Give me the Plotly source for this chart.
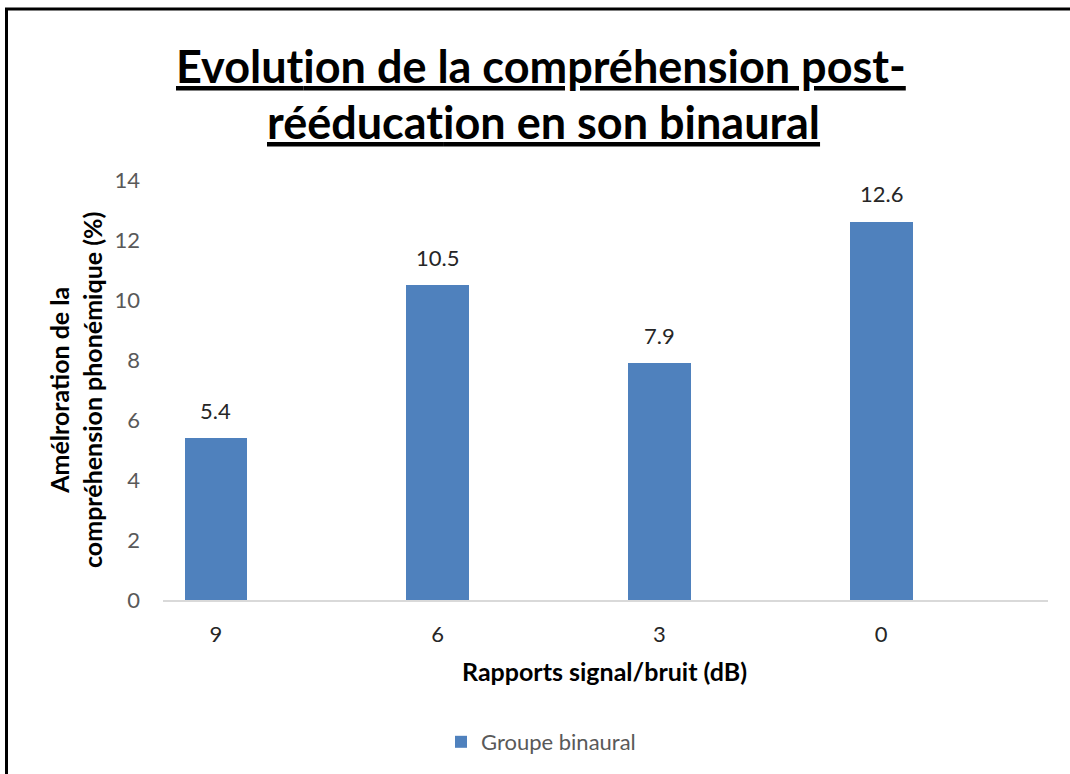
import plotly.graph_objects as go

# Signal-to-noise ratios (dB) and mean improvement (%) for the binaural group
categories = ["9", "6", "3", "0"]
values = [5.4, 10.5, 7.9, 12.6]
value_labels = ["5.4", "10.5", "7.9", "12.6"]
y_ticks = [0, 2, 4, 6, 8, 10, 12, 14]
series_name = "Groupe binaural"

W, H = 1070, 774
FONT = "Lato"
BLUE = "#4f81bd"
ZWNJ = "\u200c"  # keeps "t" and "i" as separate glyphs


def px(x):
    return x / W


def py(y):
    return 1 - y / H


fig = go.Figure()
fig.add_trace(go.Bar(
    x=categories,
    y=values,
    name=series_name,
    marker=dict(color=BLUE, line=dict(width=0)),
    width=0.284,
    showlegend=True,
))

# value labels above each bar
for i, (v, t) in enumerate(zip(values, value_labels)):
    fig.add_annotation(x=i, y=v, text=t, showarrow=False, yshift=28,
                       font=dict(family=FONT, size=22, color="#262626"),
                       xref="x", yref="y")

# title, underlined
title_1 = "Evolut" + ZWNJ + "ion de la compréhension post-"
title_2 = "rééducat" + ZWNJ + "ion en son binaural"
fig.add_annotation(x=px(541), y=py(66), xref="paper", yref="paper",
                   text=f"<b><u>{title_1}</u></b>",
                   showarrow=False, xanchor="center", yanchor="middle",
                   font=dict(family=FONT, size=45, color="#000000"))
fig.add_annotation(x=px(543), y=py(122), xref="paper", yref="paper",
                   text=f"<b><u>{title_2}</u></b>",
                   showarrow=False, xanchor="center", yanchor="middle",
                   font=dict(family=FONT, size=45, color="#000000"))

# axis titles
fig.add_annotation(x=px(75), y=py(390), xref="paper", yref="paper",
                   text="<b>Amélroration de la<br>compréhension phonémique (%)</b>",
                   showarrow=False, textangle=-90, xanchor="center", yanchor="middle",
                   font=dict(family=FONT, size=25, color="#000000"))
fig.add_annotation(x=px(604), y=py(671), xref="paper", yref="paper",
                   text="<b>Rapports signal/bruit (dB)</b>",
                   showarrow=False, xanchor="center", yanchor="middle",
                   font=dict(family=FONT, size=25, color="#000000"))

# frame: left and top edges
fig.add_shape(type="line", xref="paper", yref="paper",
              x0=px(6.5), y0=0, x1=px(6.5), y1=py(9), line=dict(color="black", width=3))
fig.add_shape(type="line", xref="paper", yref="paper",
              x0=px(5), y0=py(9), x1=1, y1=py(9), line=dict(color="black", width=3))

fig.update_layout(
    width=W, height=H,
    margin=dict(l=0, r=0, t=0, b=0, autoexpand=False),
    paper_bgcolor="white", plot_bgcolor="white",
    font=dict(family=FONT),
    xaxis=dict(
        domain=[px(163), px(1048)],
        type="category",
        range=[-0.239, 3.753],
        showgrid=False, zeroline=False,
        showline=True, linecolor="#d9d9d9", linewidth=1.5,
        ticks="", tickfont=dict(family=FONT, size=22, color="#262626"),
        ticklabelstandoff=14,
        automargin=False,
        fixedrange=True,
    ),
    yaxis=dict(
        domain=[py(600), py(180)],
        range=[0, 14],
        tickvals=y_ticks,
        showgrid=False, zeroline=False, showline=False,
        ticks="", tickfont=dict(family=FONT, size=22, color="#595959"),
        ticklabelstandoff=22,
        automargin=False,
        fixedrange=True,
    ),
    legend=dict(
        orientation="h", x=px(541), y=py(742), xanchor="center", yanchor="middle",
        font=dict(family=FONT, size=22, color="#595959"),
        itemwidth=30, bgcolor="rgba(0,0,0,0)",
    ),
    bargap=0,
)

fig.write_html("out.html")
